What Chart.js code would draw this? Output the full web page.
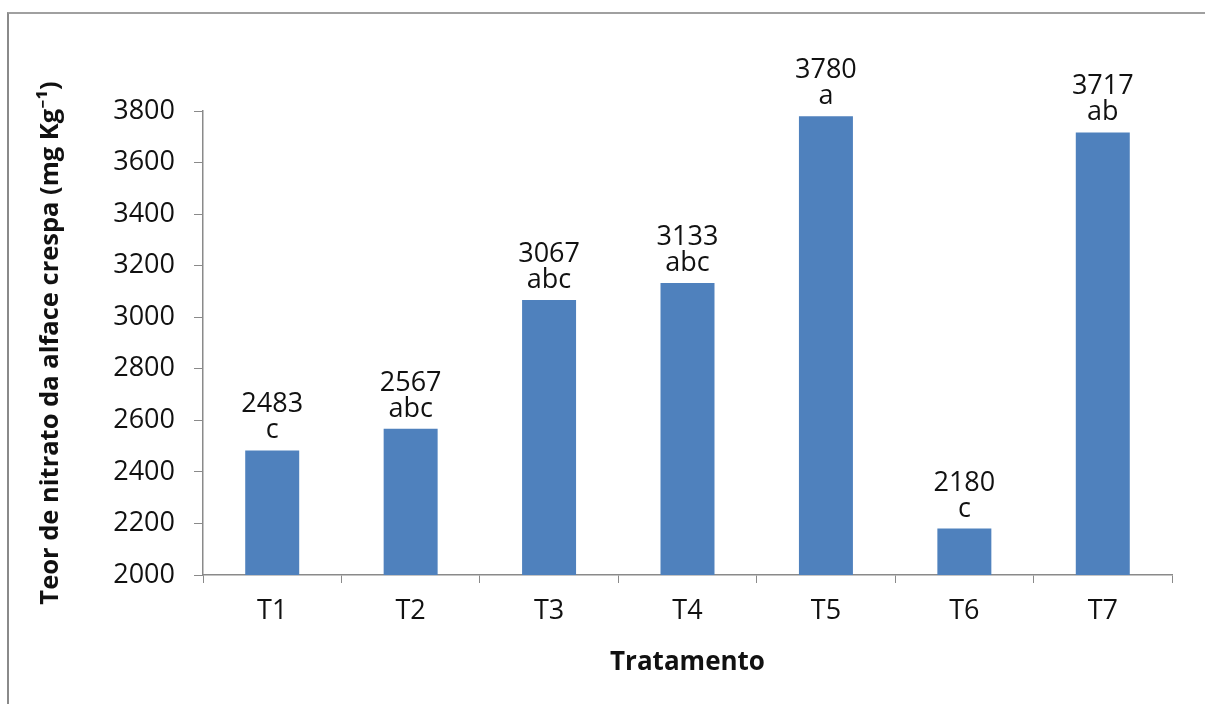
<!DOCTYPE html>
<html>
<head>
<meta charset="utf-8">
<script src="https://cdn.jsdelivr.net/npm/chart.js@4/dist/chart.umd.min.js"></script>
<style>
  html, body { margin: 0; padding: 0; background: #fff; }
  #wrap { position: relative; width: 1205px; height: 704px; }
  #frame {
    position: absolute; left: 7px; top: 12px; right: 0; bottom: 0;
    border-top: 2px solid #a0a0a0; border-left: 2px solid #8a8a8a;
    pointer-events: none;
  }
</style>
</head>
<body>
<div id="wrap">
  <canvas id="chart" width="1205" height="704"></canvas>
  <div id="frame"></div>
</div>
<script>
const treatments = ["T1", "T2", "T3", "T4", "T5", "T6", "T7"];
const nitrate = [2483, 2567, 3067, 3133, 3780, 2180, 3717];
const letters = ["c", "abc", "abc", "abc", "a", "c", "ab"];

const FONT = "'Open Sans', 'Noto Sans', sans-serif";

// value + significance letter above each bar
const barLabels = {
  id: "barLabels",
  afterDatasetsDraw(chart) {
    const ctx = chart.ctx;
    const meta = chart.getDatasetMeta(0);
    ctx.save();
    ctx.fillStyle = "#111";
    ctx.font = "27px " + FONT;
    ctx.textAlign = "center";
    ctx.textBaseline = "alphabetic";
    meta.data.forEach((bar, i) => {
      const letterY = bar.y - 12;
      ctx.fillText(letters[i], bar.x, letterY);
      ctx.fillText(String(nitrate[i]), bar.x, letterY - 26);
    });
    ctx.restore();
  }
};

new Chart(document.getElementById("chart"), {
  type: "bar",
  data: {
    labels: treatments,
    datasets: [{
      data: nitrate,
      backgroundColor: "#4f81bd",
      borderWidth: 0,
      barPercentage: 0.39,
      categoryPercentage: 1
    }]
  },
  options: {
    responsive: false,
    animation: false,
    layout: { padding: { top: 111, right: 33, bottom: 0, left: 0 } },
    plugins: { legend: { display: false }, tooltip: { enabled: false } },
    scales: {
      x: {
        afterFit(scale) { scale.height = 129; },
        grid: { drawOnChartArea: false, tickLength: 8, color: "#8a8a8a", offset: true },
        border: { color: "#8a8a8a", width: 1.5 },
        ticks: { color: "#111", font: { family: FONT, size: 27 }, padding: 12 },
        title: {
          display: true, text: "Tratamento", color: "#111",
          font: { family: FONT, size: 26, weight: "bold" },
          padding: { top: 0, bottom: 26 }
        }
      },
      y: {
        min: 2000, max: 3800,
        afterFit(scale) { scale.width = 203; },
        grid: { drawOnChartArea: false, tickLength: 9, color: "#8a8a8a" },
        border: { color: "#8a8a8a", width: 1.5 },
        ticks: {
          stepSize: 200, color: "#111", font: { family: FONT, size: 27 }, padding: 19,
          callback: v => String(v)
        },
        title: {
          display: true, text: "Teor de nitrato da alface crespa (mg Kg⁻¹)", color: "#111",
          font: { family: FONT, size: 25.5, weight: "bold" },
          padding: { top: 35, bottom: 0 }
        }
      }
    }
  },
  plugins: [barLabels]
});
</script>
</body>
</html>
